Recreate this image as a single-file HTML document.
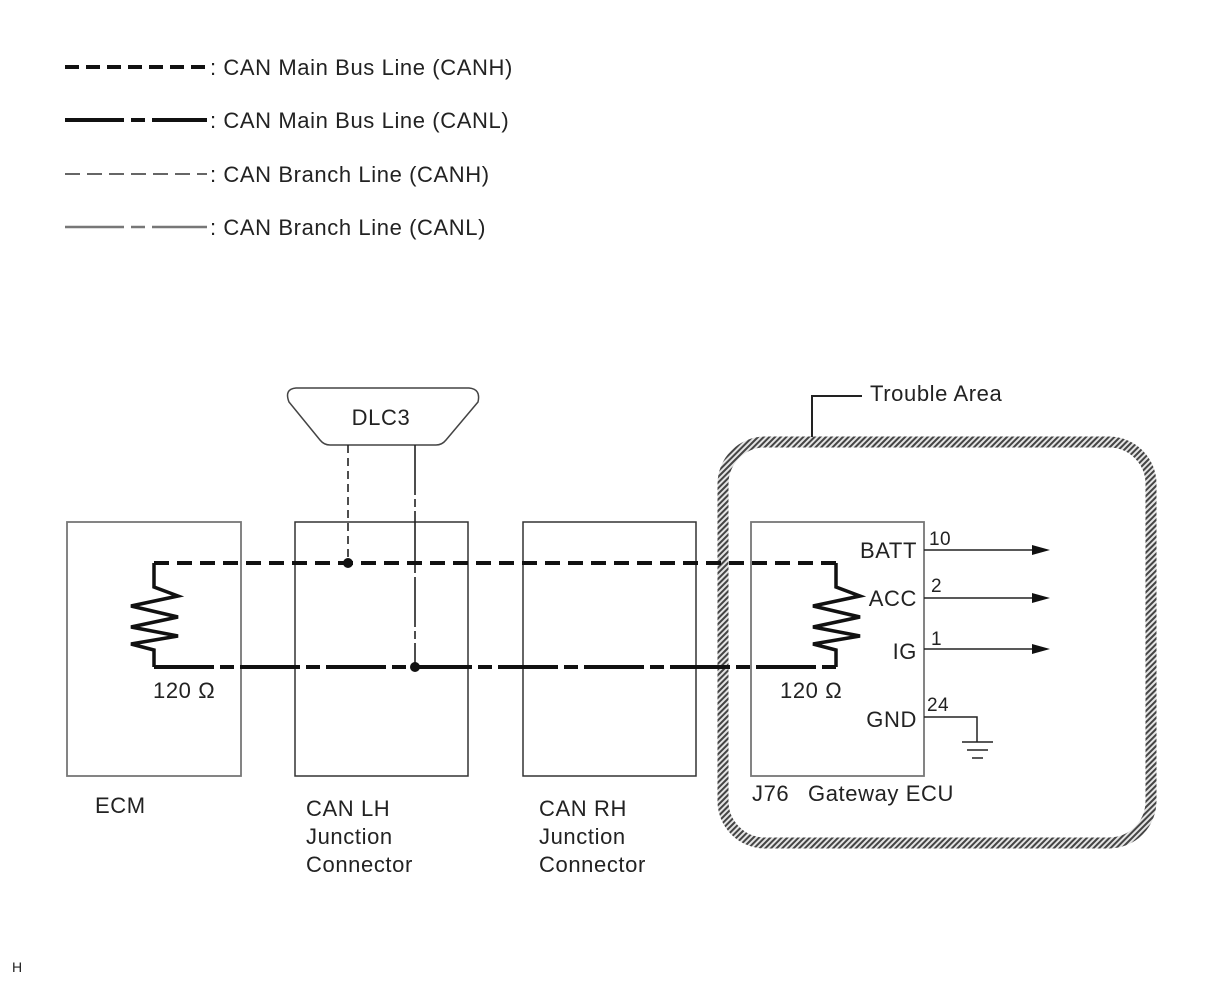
<!DOCTYPE html>
<html><head><meta charset="utf-8"><style>
html,body{margin:0;padding:0;background:#fff;}
svg{display:block;}
text{font-family:"Liberation Sans",Arial,sans-serif;fill:#222;}
.t{font-size:22px;letter-spacing:0.6px;}
.n{font-size:19px;letter-spacing:0.4px;}
</style></head><body>
<svg width="1210" height="986" viewBox="0 0 1210 986" xmlns="http://www.w3.org/2000/svg">
<defs>
<pattern id="hatch" width="4" height="4" patternUnits="userSpaceOnUse" patternTransform="rotate(45)">
<rect width="4" height="4" fill="#e4e4e4"/>
<rect width="2" height="4" fill="#444"/>
</pattern>
</defs>
<!-- legend -->
<line x1="65" y1="67" x2="207" y2="67" stroke="#111" stroke-width="4" stroke-dasharray="14,7"/>
<text class="t" x="210" y="75">: CAN Main Bus Line (CANH)</text>
<line x1="65" y1="120" x2="124" y2="120" stroke="#111" stroke-width="4"/>
<line x1="131" y1="120" x2="145" y2="120" stroke="#111" stroke-width="4"/>
<line x1="152" y1="120" x2="207" y2="120" stroke="#111" stroke-width="4"/>
<text class="t" x="210" y="128">: CAN Main Bus Line (CANL)</text>
<line x1="65" y1="174" x2="207" y2="174" stroke="#333" stroke-width="1.6" stroke-dasharray="15,7"/>
<text class="t" x="210" y="182">: CAN Branch Line (CANH)</text>
<line x1="65" y1="227" x2="124" y2="227" stroke="#777" stroke-width="2.5"/>
<line x1="131" y1="227" x2="145" y2="227" stroke="#777" stroke-width="2.5"/>
<line x1="152" y1="227" x2="207" y2="227" stroke="#777" stroke-width="2.5"/>
<text class="t" x="210" y="235">: CAN Branch Line (CANL)</text>

<!-- trouble area -->
<rect x="723" y="442" width="428" height="401" rx="42" ry="42" fill="none" stroke="url(#hatch)" stroke-width="11"/>
<polyline points="812,437 812,396 862,396" fill="none" stroke="#222" stroke-width="2"/>
<text class="t" x="870" y="401">Trouble Area</text>

<!-- boxes -->
<rect x="67" y="522" width="174" height="254" fill="none" stroke="#777" stroke-width="1.8"/>
<rect x="295" y="522" width="173" height="254" fill="none" stroke="#333" stroke-width="1.5"/>
<rect x="523" y="522" width="173" height="254" fill="none" stroke="#333" stroke-width="1.5"/>
<rect x="751" y="522" width="173" height="254" fill="none" stroke="#777" stroke-width="1.8"/>

<!-- DLC3 -->
<path d="M296,388 L469,388 Q481,389 478,402 L446,440 Q442,445 436,445 L330,445 Q324,445 320,440 L289,402 Q284,389 296,388 Z" fill="#fff" stroke="#444" stroke-width="1.5"/>
<text class="t" x="381" y="425" text-anchor="middle">DLC3</text>
<line x1="348" y1="445" x2="348" y2="563" stroke="#222" stroke-width="1.6" stroke-dasharray="8,5"/>
<line x1="415" y1="445" x2="415" y2="667" stroke="#222" stroke-width="1.6" stroke-dasharray="50,4,8,4"/>

<!-- CANH main -->
<line x1="154" y1="563" x2="836" y2="563" stroke="#111" stroke-width="4" stroke-dasharray="15,8"/>
<!-- CANL main -->
<line x1="154" y1="667" x2="836" y2="667" stroke="#111" stroke-width="4" stroke-dasharray="60,6,14,6"/>
<circle cx="348" cy="563" r="5" fill="#111"/>
<circle cx="415" cy="667" r="5" fill="#111"/>

<!-- left resistor -->
<polyline points="154,563 154,587 178,596 131,606 178,617 131,627 178,636 131,644 154,650 154,667" fill="none" stroke="#111" stroke-width="3.5"/>
<text class="t" x="153" y="698">120 Ω</text>
<!-- right resistor -->
<polyline points="836,563 836,587 860,596 813,606 860,617 813,627 860,636 813,644 836,650 836,667" fill="none" stroke="#111" stroke-width="3.5"/>
<text class="t" x="780" y="698">120 Ω</text>

<!-- pins -->
<text class="t" x="917" y="558" text-anchor="end">BATT</text>
<text class="n" x="929" y="545">10</text>
<line x1="924" y1="550" x2="1035" y2="550" stroke="#222" stroke-width="1.5"/>
<polygon points="1032,545 1050,550 1032,555" fill="#111"/>
<text class="t" x="917" y="606" text-anchor="end">ACC</text>
<text class="n" x="931" y="592">2</text>
<line x1="924" y1="598" x2="1035" y2="598" stroke="#222" stroke-width="1.5"/>
<polygon points="1032,593 1050,598 1032,603" fill="#111"/>
<text class="t" x="917" y="659" text-anchor="end">IG</text>
<text class="n" x="931" y="645">1</text>
<line x1="924" y1="649" x2="1035" y2="649" stroke="#222" stroke-width="1.5"/>
<polygon points="1032,644 1050,649 1032,654" fill="#111"/>
<text class="t" x="917" y="727" text-anchor="end">GND</text>
<text class="n" x="927" y="711">24</text>
<polyline points="924,717 977,717 977,742" fill="none" stroke="#222" stroke-width="1.5"/>
<line x1="962" y1="742" x2="993" y2="742" stroke="#222" stroke-width="1.5"/>
<line x1="967" y1="750" x2="988" y2="750" stroke="#222" stroke-width="1.5"/>
<line x1="972" y1="758" x2="983" y2="758" stroke="#222" stroke-width="1.5"/>

<!-- labels -->
<text class="t" x="95" y="813">ECM</text>
<text class="t" x="306" y="816">CAN LH</text>
<text class="t" x="306" y="844">Junction</text>
<text class="t" x="306" y="872">Connector</text>
<text class="t" x="539" y="816">CAN RH</text>
<text class="t" x="539" y="844">Junction</text>
<text class="t" x="539" y="872">Connector</text>
<text class="t" x="752" y="801">J76</text>
<text class="t" x="808" y="801">Gateway ECU</text>
<text x="12" y="972" font-size="14">H</text>
</svg>
</body></html>
